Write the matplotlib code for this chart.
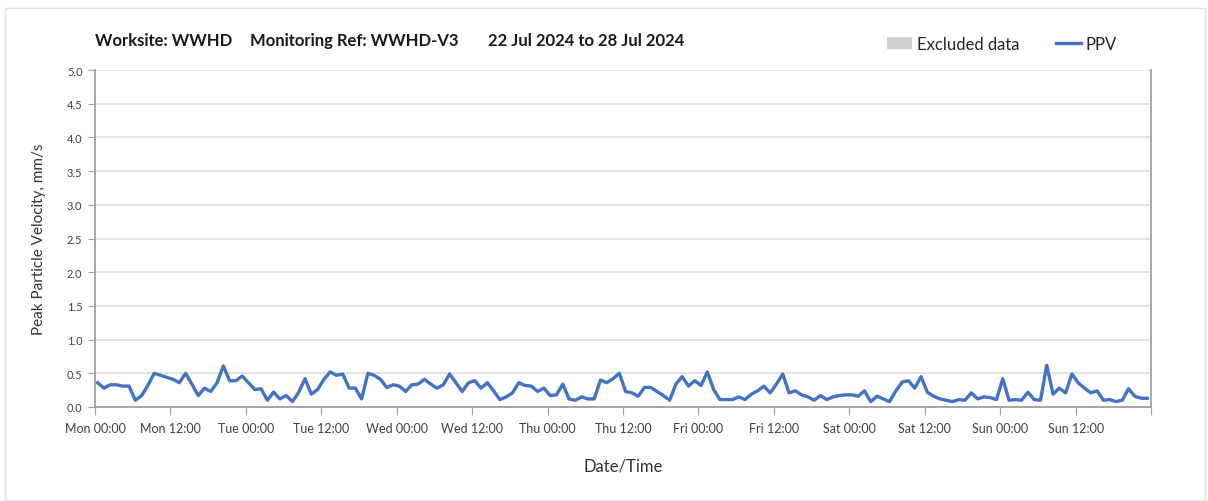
import matplotlib
matplotlib.use("Agg")
import matplotlib.pyplot as plt
import matplotlib.dates as mdates
import pandas as pd
from matplotlib.patches import Patch, Rectangle
from matplotlib.lines import Line2D

plt.rcParams['font.family'] = ['Lato', 'DejaVu Sans']

# hourly PPV readings, Mon 22 Jul - Sun 28 Jul 2024 (mm/s)
ppv = [
    0.36, 0.28, 0.33, 0.33, 0.31, 0.31, 0.10, 0.17, 0.32, 0.50, 0.47, 0.44,
    0.41, 0.36, 0.50, 0.34, 0.17, 0.28, 0.23, 0.36, 0.61, 0.39, 0.39, 0.46,
    0.36, 0.26, 0.27, 0.10, 0.22, 0.12, 0.17, 0.08, 0.22, 0.42, 0.19, 0.26,
    0.41, 0.52, 0.47, 0.49, 0.28, 0.28, 0.12, 0.50, 0.47, 0.41, 0.29, 0.33,
    0.31, 0.23, 0.33, 0.34, 0.41, 0.34, 0.28, 0.33, 0.49, 0.36, 0.23, 0.36,
    0.39, 0.28, 0.36, 0.24, 0.11, 0.15, 0.21, 0.36, 0.32, 0.31, 0.23, 0.28,
    0.17, 0.18, 0.34, 0.12, 0.10, 0.15, 0.12, 0.12, 0.40, 0.36, 0.42, 0.50,
    0.23, 0.21, 0.16, 0.29, 0.29, 0.23, 0.17, 0.10, 0.34, 0.45, 0.31, 0.39,
    0.32, 0.52, 0.26, 0.11, 0.11, 0.11, 0.15, 0.11, 0.19, 0.24, 0.31, 0.21,
    0.34, 0.49, 0.21, 0.24, 0.18, 0.15, 0.10, 0.17, 0.11, 0.15, 0.17, 0.18,
    0.18, 0.16, 0.24, 0.08, 0.16, 0.12, 0.08, 0.24, 0.37, 0.39, 0.28, 0.45,
    0.22, 0.16, 0.12, 0.10, 0.08, 0.11, 0.10, 0.21, 0.12, 0.15, 0.14, 0.11,
    0.42, 0.10, 0.11, 0.10, 0.22, 0.11, 0.10, 0.62, 0.19, 0.28, 0.21, 0.49,
    0.36, 0.28, 0.21, 0.24, 0.10, 0.11, 0.08, 0.10, 0.27, 0.16, 0.13, 0.13,
]
times = pd.date_range('2024-07-22 00:25', periods=len(ppv), freq='h')

tick_times = pd.date_range('2024-07-22', '2024-07-29', freq='12h')
tick_labels = [t.strftime('%a %H:%M') for t in tick_times[:-1]] + ['']
y_ticks = [i * 0.5 for i in range(11)]

fig = plt.figure(figsize=(12.08, 5.02), dpi=100)
ax = fig.add_axes([95 / 1208, 1 - 408 / 502, 1056 / 1208, 337 / 502])

# outer frame
fig.patches.append(Rectangle((5 / 1208, 1 / 502), 1200 / 1208, 492 / 502,
                             transform=fig.transFigure, fill=False,
                             edgecolor='#e0e0e0', linewidth=1))

ax.plot(times, ppv, color='#4472C4', linewidth=2.4, solid_joinstyle='round')

ax.set_xlim(pd.Timestamp('2024-07-22'), pd.Timestamp('2024-07-29'))
ax.set_ylim(0, 5)
ax.set_yticks(y_ticks)
ax.set_yticklabels([f'{v:.1f}' for v in y_ticks])
ax.set_xticks(tick_times)
ax.set_xticklabels(tick_labels)
ax.xaxis.set_minor_locator(mdates.DayLocator())

ax.grid(axis='y', color='#e0e0e0', linewidth=1.3)
ax.grid(axis='x', which='minor', color='#d9d9d9', linewidth=1.3)
ax.set_axisbelow(True)
ax.tick_params(axis='x', which='major', length=6, color='#a0a0a0',
               labelsize=9, labelcolor='#404040', pad=5)
ax.tick_params(axis='x', which='minor', length=0)
ax.tick_params(axis='y', length=5, color='#a0a0a0', labelsize=8,
               labelcolor='#404040', pad=4)

for side in ['left', 'bottom', 'right']:
    ax.spines[side].set_color('#a0a0a0')
    ax.spines[side].set_linewidth(1.3)
ax.spines['top'].set_visible(False)

ax.set_ylabel('Peak Particle Velocity, mm/s', fontsize=11, color='#333333',
              labelpad=15)
ax.set_xlabel('Date/Time', fontsize=12, color='#333333', labelpad=17)

title_y = 1 - 41 / 502
fig.text(95 / 1208, title_y, 'Worksite: WWHD', fontsize=12,
         fontweight='bold', va='center', color='#1a1a1a')
fig.text(250 / 1208, title_y, 'Monitoring Ref: WWHD-V3', fontsize=12,
         fontweight='bold', va='center', color='#1a1a1a')
fig.text(488 / 1208, title_y, '22 Jul 2024 to 28 Jul 2024', fontsize=12,
         fontweight='bold', va='center', color='#1a1a1a')

handles = [Patch(facecolor='#d0d0d0', edgecolor='none'),
           Line2D([], [], color='#4472C4', linewidth=2.4)]
ax.legend(handles, ['Excluded data', 'PPV'], ncol=2, frameon=False,
          loc='center right', bbox_to_anchor=(0.982, 1.077), fontsize=12,
          handlelength=1.5, handletextpad=0.3, columnspacing=2.2,
          labelcolor='#262626')

fig.savefig('out.png', dpi=100)
